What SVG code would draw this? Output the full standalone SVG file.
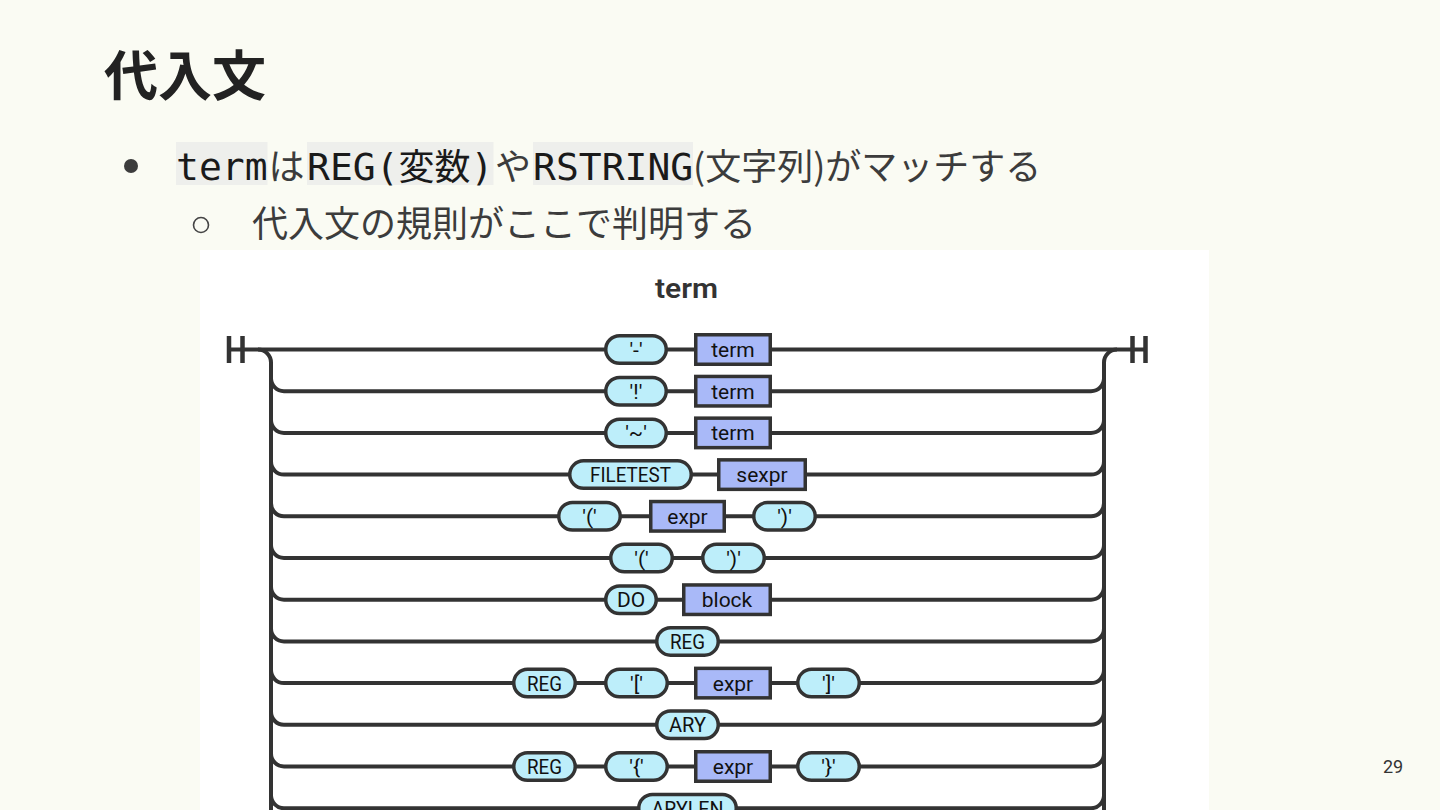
<svg xmlns="http://www.w3.org/2000/svg" width="1440" height="810" viewBox="0 0 1440 810">
<style>
.cjk{font-family:"Noto Sans CJK JP","Noto Sans",sans-serif;}
.mono{font-family:"DejaVu Sans Mono","Noto Sans CJK JP",monospace;font-size:38px;fill:#1a1a1a;}
.body{font-size:36px;fill:#3c3c3c;}
.code{fill:#eeefec;}
.wire{fill:none;stroke:#333;stroke-width:4;}
.bar{fill:none;stroke:#333;stroke-width:4.5;}
.t{fill:#bdeefa;stroke:#333;stroke-width:3.5;}
.n{fill:#a9b9f8;stroke:#333;stroke-width:3.5;}
.l{font-family:Roboto,"Liberation Sans",sans-serif;font-size:21px;fill:#111;text-anchor:middle;}
</style>
<rect x="0" y="0" width="1440" height="810" fill="#fafbf3"/>
<g id="title"><text class="cjk" x="104" y="96" font-size="54" font-weight="bold" fill="#222">代入文</text></g>
<g id="bullet1">
<circle cx="131" cy="166" r="7" fill="#3c3c3c"/>
<rect class="code" x="176" y="142" width="91.5" height="43"/>
<rect class="code" x="307" y="142" width="186.5" height="43"/>
<rect class="code" x="533" y="142" width="160" height="43"/>
<text class="mono" x="176" y="180">term</text>
<text class="cjk body" x="268.5" y="180">は</text>
<text class="mono" x="307" y="180">REG(</text>
<text class="cjk" x="398.5" y="180" font-size="36" fill="#1a1a1a">変数</text>
<text class="mono" x="470.5" y="180">)</text>
<text class="cjk body" x="495" y="180">や</text>
<text class="mono" x="533" y="180">RSTRING</text>
<text class="cjk body" x="693" y="180">(文字列)がマッチする</text>
</g>
<g id="bullet2">
<circle cx="201" cy="225" r="7.5" fill="none" stroke="#444" stroke-width="1.6"/>
<text class="cjk body" x="252" y="237" fill="#444">代入文の規則がここで判明する</text>
</g>
<g id="pagenum"><text x="1383" y="773" font-family="Roboto,'Liberation Sans',sans-serif" font-size="18" fill="#333">29</text></g>
<rect id="panel" x="200" y="250" width="1009" height="560" fill="#ffffff"/>
<g id="diagram-title"><text x="686.5" y="298" font-family="Roboto,'Liberation Sans',sans-serif" font-size="27" font-weight="600" fill="#333" text-anchor="middle" textLength="63" lengthAdjust="spacingAndGlyphs">term</text></g>
<g id="connectors">
<path class="bar" d="M229 336V363M242.5 336V363M1132.5 336V363M1145.5 336V363"/>
<path class="wire" d="M229 349.5H1146"/>
<path class="wire" d="M258 349.5A13 13 0 0 1 271 362.5V815"/>
<path class="wire" d="M1104 815V362.5A13 13 0 0 1 1117 349.5"/>
<path class="wire" d="M271 378.2A13 13 0 0 0 284 391.2H1091A13 13 0 0 0 1104 378.2"/>
<path class="wire" d="M271 419.9A13 13 0 0 0 284 432.9H1091A13 13 0 0 0 1104 419.9"/>
<path class="wire" d="M271 461.6A13 13 0 0 0 284 474.6H1091A13 13 0 0 0 1104 461.6"/>
<path class="wire" d="M271 503.3A13 13 0 0 0 284 516.3H1091A13 13 0 0 0 1104 503.3"/>
<path class="wire" d="M271 545A13 13 0 0 0 284 558H1091A13 13 0 0 0 1104 545"/>
<path class="wire" d="M271 586.7A13 13 0 0 0 284 599.7H1091A13 13 0 0 0 1104 586.7"/>
<path class="wire" d="M271 628.4A13 13 0 0 0 284 641.4H1091A13 13 0 0 0 1104 628.4"/>
<path class="wire" d="M271 670.1A13 13 0 0 0 284 683.1H1091A13 13 0 0 0 1104 670.1"/>
<path class="wire" d="M271 711.8A13 13 0 0 0 284 724.8H1091A13 13 0 0 0 1104 711.8"/>
<path class="wire" d="M271 753.5A13 13 0 0 0 284 766.5H1091A13 13 0 0 0 1104 753.5"/>
<path class="wire" d="M271 795.2A13 13 0 0 0 284 808.2H1091A13 13 0 0 0 1104 795.2"/>
</g>
<g id="r1-minus"><rect class="t" x="605.75" y="335.75" width="60.5" height="27.5" rx="13.75"/><text class="l" x="636" y="357">'-'</text></g>
<g id="r1-term"><rect class="n" x="695.75" y="334.75" width="74.5" height="29.5"/><text class="l" x="733" y="357">term</text></g>
<g id="r2-bang"><rect class="t" x="605.75" y="377.45" width="60.5" height="27.5" rx="13.75"/><text class="l" x="636" y="398.7">'!'</text></g>
<g id="r2-term"><rect class="n" x="695.75" y="376.45" width="74.5" height="29.5"/><text class="l" x="733" y="398.7">term</text></g>
<g id="r3-tilde"><rect class="t" x="605.75" y="419.15" width="60.5" height="27.5" rx="13.75"/><text class="l" x="636" y="440.4">'~'</text></g>
<g id="r3-term"><rect class="n" x="695.75" y="418.15" width="74.5" height="29.5"/><text class="l" x="733" y="440.4">term</text></g>
<g id="r4-filetest"><rect class="t" x="569.75" y="460.85" width="121.5" height="27.5" rx="13.75"/><text class="l" x="630.5" y="482.1" textLength="81" lengthAdjust="spacingAndGlyphs">FILETEST</text></g>
<g id="r4-sexpr"><rect class="n" x="718.75" y="459.85" width="86.5" height="29.5"/><text class="l" x="762" y="482.1">sexpr</text></g>
<g id="r5-lparen"><rect class="t" x="558.75" y="502.55" width="61.5" height="27.5" rx="13.75"/><text class="l" x="589.5" y="523.8">'('</text></g>
<g id="r5-expr"><rect class="n" x="650.75" y="501.55" width="73.5" height="29.5"/><text class="l" x="687.5" y="523.8">expr</text></g>
<g id="r5-rparen"><rect class="t" x="753.75" y="502.55" width="61.5" height="27.5" rx="13.75"/><text class="l" x="784.5" y="523.8">')'</text></g>
<g id="r6-lparen"><rect class="t" x="610.75" y="544.25" width="61.5" height="27.5" rx="13.75"/><text class="l" x="641.5" y="565.5">'('</text></g>
<g id="r6-rparen"><rect class="t" x="702.75" y="544.25" width="61.5" height="27.5" rx="13.75"/><text class="l" x="733.5" y="565.5">')'</text></g>
<g id="r7-do"><rect class="t" x="605.75" y="585.95" width="50.5" height="27.5" rx="13.75"/><text class="l" x="631" y="607.2">DO</text></g>
<g id="r7-block"><rect class="n" x="683.75" y="584.95" width="86.5" height="29.5"/><text class="l" x="727" y="607.2">block</text></g>
<g id="r8-reg"><rect class="t" x="656.75" y="627.65" width="61.5" height="27.5" rx="13.75"/><text class="l" x="687.5" y="648.9" textLength="35" lengthAdjust="spacingAndGlyphs">REG</text></g>
<g id="r9-reg"><rect class="t" x="513.75" y="669.35" width="61.5" height="27.5" rx="13.75"/><text class="l" x="544.5" y="690.6" textLength="35" lengthAdjust="spacingAndGlyphs">REG</text></g>
<g id="r9-lbracket"><rect class="t" x="605.75" y="669.35" width="61.5" height="27.5" rx="13.75"/><text class="l" x="636.5" y="690.6">'['</text></g>
<g id="r9-expr"><rect class="n" x="695.75" y="668.35" width="74.5" height="29.5"/><text class="l" x="733" y="690.6">expr</text></g>
<g id="r9-rbracket"><rect class="t" x="797.75" y="669.35" width="61.5" height="27.5" rx="13.75"/><text class="l" x="828.5" y="690.6">']'</text></g>
<g id="r10-ary"><rect class="t" x="656.75" y="711.05" width="61.5" height="27.5" rx="13.75"/><text class="l" x="687.5" y="732.3" textLength="37" lengthAdjust="spacingAndGlyphs">ARY</text></g>
<g id="r11-reg"><rect class="t" x="513.75" y="752.75" width="61.5" height="27.5" rx="13.75"/><text class="l" x="544.5" y="774" textLength="35" lengthAdjust="spacingAndGlyphs">REG</text></g>
<g id="r11-lbrace"><rect class="t" x="605.75" y="752.75" width="61.5" height="27.5" rx="13.75"/><text class="l" x="636.5" y="774">'{'</text></g>
<g id="r11-expr"><rect class="n" x="695.75" y="751.75" width="74.5" height="29.5"/><text class="l" x="733" y="774">expr</text></g>
<g id="r11-rbrace"><rect class="t" x="797.75" y="752.75" width="61.5" height="27.5" rx="13.75"/><text class="l" x="828.5" y="774">'}'</text></g>
<g id="r12-arylen"><rect class="t" x="638.75" y="794.45" width="97.5" height="27.5" rx="13.75"/><text class="l" x="687.5" y="815.7" textLength="72" lengthAdjust="spacingAndGlyphs">ARYLEN</text></g>
</svg>
